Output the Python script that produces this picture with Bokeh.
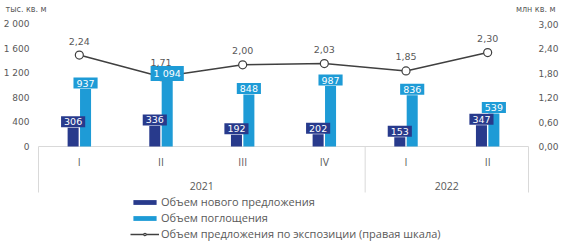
from bokeh.plotting import figure
from bokeh.models import Range1d, LinearAxis, FixedTicker, Legend, LegendItem, Label
from bokeh.core.properties import value
from bokeh.embed import file_html
from bokeh.resources import INLINE

# ---------------- data ----------------
years = ["2021", "2022"]
year_spans = [4, 2]
quarters = ["I", "II", "III", "IV", "I", "II"]
new_supply = [306, 336, 192, 202, 153, 347]          # тыс. кв. м
absorption = [937, 1094, 848, 987, 836, 539]         # тыс. кв. м
exposure = [2.24, 1.71, 2.00, 2.03, 1.85, 2.30]      # млн кв. м (right axis)
left_ticks = [0, 400, 800, 1200, 1600, 2000]
right_ticks = [0.0, 0.6, 1.2, 1.8, 2.4, 3.0]
left_unit = "тыс. кв. м"
right_unit = "млн кв. м"
legend_labels = ["Объем нового предложения", "Объем поглощения",
                 "Объем предложения по экспозиции (правая шкала)"]

# ---------------- styling / layout ----------------
W, H = 561, 243
X0PX, X6PX = 38, 528        # pixels where category axis starts/ends
Y0PX, YTOPPX = 146, 23.5    # pixel of zero and of axis max
DARK = "#283a8c"
LIGHT = "#1e9bd6"
GREY = "#595959"
LINE = "#404040"
NUM_FONT = "DejaVu Sans"
TXT_FONT = "Open Sans"

n = len(quarters)
xpp = n / (X6PX - X0PX)
x_range = Range1d(-X0PX * xpp, n + (W - X6PX) * xpp)
lpp = left_ticks[-1] / (Y0PX - YTOPPX)
rpp = right_ticks[-1] / (Y0PX - YTOPPX)
y_range = Range1d(-(H - Y0PX) * lpp, Y0PX * lpp)
yr_right = Range1d(-(H - Y0PX) * rpp, Y0PX * rpp)


def ypx(px):
    """left-axis data value at a given pixel row"""
    return (Y0PX - px) * lpp


p = figure(width=W, height=H, x_range=x_range, y_range=y_range,
           output_backend="svg", toolbar_location=None, title=None,
           x_axis_location=None, min_border_left=0, min_border_right=0,
           min_border_top=0, min_border_bottom=0)
p.extra_y_ranges = {"right": yr_right}
p.grid.visible = False
p.outline_line_color = None
p.background_fill_color = "white"
p.border_fill_color = "white"

# axes (fixed inside the frame)
la = p.yaxis[0]
la.ticker = FixedTicker(ticks=left_ticks)
la.major_label_overrides = {t: (f"{t:,}".replace(",", " ")) for t in left_ticks}
la.fixed_location = 0
la.major_label_standoff = 9
ra = LinearAxis(y_range_name="right", ticker=FixedTicker(ticks=right_ticks))
ra.major_label_overrides = {t: f"{t:.2f}".replace(".", ",") for t in right_ticks}
ra.fixed_location = n
ra.major_label_standoff = 10
p.add_layout(ra, "right")
for ax in (la, ra):
    ax.axis_line_color = None
    ax.major_tick_line_color = None
    ax.minor_tick_line_color = None
    ax.major_tick_out = 0
    ax.major_tick_in = 0
    ax.minor_tick_out = 0
    ax.minor_tick_in = 0
    ax.major_label_text_font = NUM_FONT
    ax.major_label_text_font_size = "9px"
    ax.major_label_text_color = GREY

centers = [i + 0.5 for i in range(n)]
off = 0.076
bw = 0.135
xd = [c - off for c in centers]
xl = [c + off for c in centers]

# category axis line and separators
p.segment(x0=[0], x1=[n], y0=[0], y1=[0], line_color="#d9d9d9", line_width=1)
bounds = [0]
for s in year_spans:
    bounds.append(bounds[-1] + s)
p.segment(x0=bounds, x1=bounds, y0=[0] * len(bounds), y1=[ypx(192)] * len(bounds),
          line_color="#d9d9d9", line_width=1)

r_dark = p.vbar(x=xd, top=new_supply, bottom=0, width=bw, fill_color=DARK, line_color=None)
r_light = p.vbar(x=xl, top=absorption, bottom=0, width=bw, fill_color=LIGHT, line_color=None)

r_line = p.line(x=centers, y=exposure, y_range_name="right", line_color=LINE, line_width=1.5)
r_pts = p.scatter(x=centers, y=exposure, y_range_name="right", marker="circle", size=8,
                  fill_color="white", line_color=LINE, line_width=1.2)


def fmt_int(v):
    return f"{v:,}".replace(",", " ")


p.text(x=xd, y=new_supply, text=[fmt_int(v) for v in new_supply],
       anchor="center", y_offset=-6, text_font=value(NUM_FONT), text_font_size="9.5px",
       text_color="white", background_fill_color=DARK, padding=(3, 2))
p.text(x=xl, y=absorption, text=[fmt_int(v) for v in absorption],
       anchor="center", y_offset=-6, text_font=value(NUM_FONT), text_font_size="9.5px",
       text_color="white", background_fill_color=LIGHT, padding=(3, 2))

# line value labels (drawn above the boxes)
p.text(x=centers, y=exposure, y_range_name="right",
       text=[f"{v:.2f}".replace(".", ",") for v in exposure],
       anchor="center", y_offset=-14, text_font=value(NUM_FONT),
       text_font_size="9.5px", text_color=GREY)

# category labels
p.text(x=centers, y=[ypx(161)] * n, text=quarters, anchor="center",
       text_font=value(TXT_FONT), text_font_size="10.5px", text_color=GREY)
ymid = [(bounds[i] + bounds[i + 1]) / 2 for i in range(len(years))]
p.text(x=ymid, y=[ypx(185)] * len(years), text=years, anchor="center",
       text_font=value(TXT_FONT), text_font_size="10.5px", text_color=GREY)

# unit labels
p.add_layout(Label(x=5, y=H - 9, x_units="screen", y_units="screen", text=left_unit,
                   text_font=NUM_FONT, text_font_size="8px", text_color=GREY,
                   text_baseline="middle", text_align="left"))
p.add_layout(Label(x=555, y=H - 9, x_units="screen", y_units="screen", text=right_unit,
                   text_font=NUM_FONT, text_font_size="8px", text_color=GREY,
                   text_baseline="middle", text_align="right"))

legend = Legend(items=[
    LegendItem(label=legend_labels[0], renderers=[r_dark]),
    LegendItem(label=legend_labels[1], renderers=[r_light]),
    LegendItem(label=legend_labels[2], renderers=[r_line, r_pts]),
], location=(130, 2), orientation="vertical", glyph_width=29, glyph_height=6,
    label_text_font=TXT_FONT, label_text_font_size="11px", label_text_color=GREY,
    padding=0, margin=0, spacing=1, label_height=12, label_standoff=2,
    border_line_color=None, background_fill_alpha=0)
p.add_layout(legend)

open("out.html", "w").write(file_html(p, INLINE))
